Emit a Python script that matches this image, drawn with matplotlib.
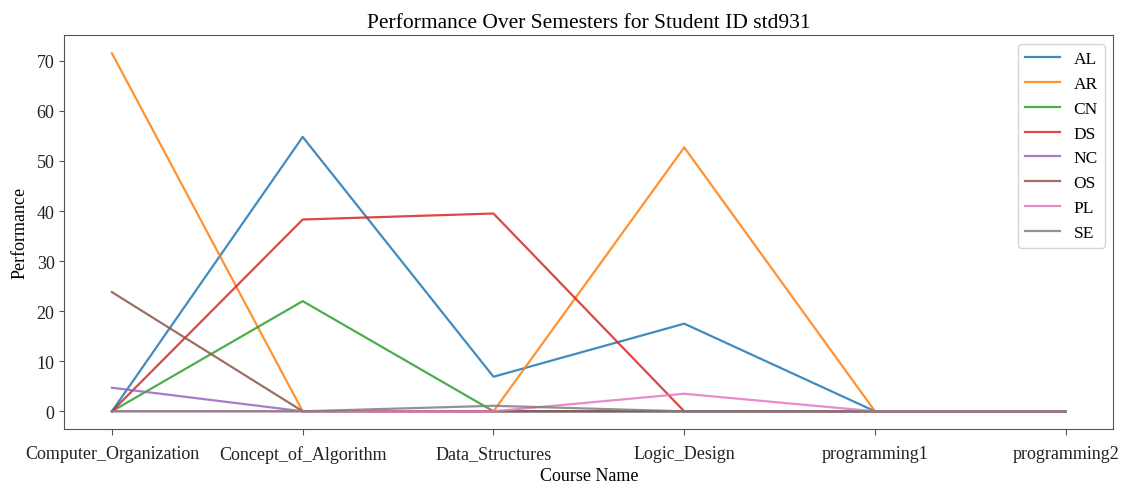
import matplotlib
matplotlib.use('Agg')
import matplotlib.pyplot as plt

courses = ["Computer_Organization", "Concept_of_Algorithm", "Data_Structures",
           "Logic_Design", "programming1", "programming2"]

# performance per subject code, one value per course
AL = [0, 54.8, 6.9, 17.5, 0, 0]
AR = [71.5, 0, 0, 52.7, 0, 0]
CN = [0, 22.0, 0, 0, 0, 0]
DS = [0, 38.3, 39.5, 0, 0, 0]
NC = [4.7, 0, 0, 0, 0, 0]
OS = [23.8, 0, 0, 0, 0, 0]
PL = [0, 0, 0, 3.5, 0, 0]
SE = [0, 0, 1.1, 0, 0, 0]

series = {"AL": AL, "AR": AR, "CN": CN, "DS": DS,
          "NC": NC, "OS": OS, "PL": PL, "SE": SE}

plt.rcParams['font.family'] = ['Liberation Serif', 'DejaVu Serif']

fig, ax = plt.subplots(figsize=(11.27, 4.85), dpi=100)

x = range(len(courses))
for name, vals in series.items():
    ax.plot(x, vals, label=name, linewidth=1.6, alpha=0.85)

ax.set_xticks(list(x))
ax.set_xticklabels(courses, fontsize=13)
ax.tick_params(axis='x', pad=7, length=4.5)
ax.tick_params(axis='y', labelsize=13)
ax.set_title("Performance Over Semesters for Student ID std931", fontsize=15.5)
ax.set_xlabel("Course Name", fontsize=13, labelpad=3)
ax.set_ylabel("Performance", fontsize=13, labelpad=6)
ax.legend(loc='upper right', fontsize=12.5)

for s in ax.spines.values():
    s.set_color('#555555')
ax.tick_params(colors='#555555', labelcolor='#222222')

fig.subplots_adjust(left=0.057, right=0.988, top=0.925, bottom=0.113)
fig.savefig('out.png', dpi=100)
